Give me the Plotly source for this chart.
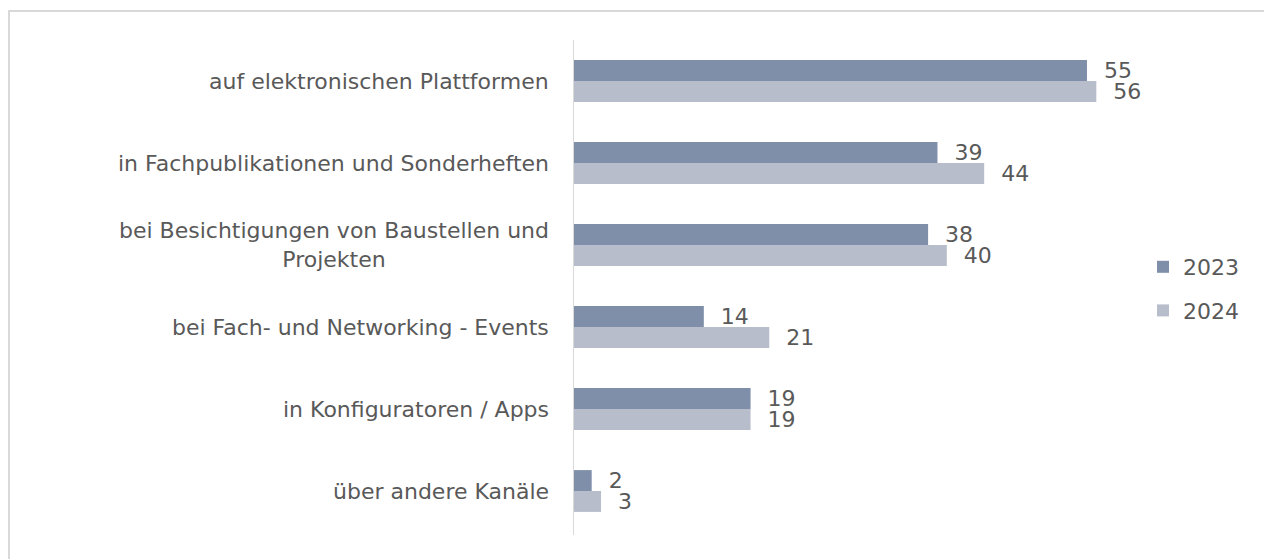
import plotly.graph_objects as go

categories = [
    "auf elektronischen Plattformen",
    "in Fachpublikationen und Sonderheften",
    "bei Besichtigungen von Baustellen und<br>Projekten",
    "bei Fach- und Networking - Events",
    "in Konfiguratoren / Apps",
    "über andere Kanäle",
]
values_2023 = [55, 39, 38, 14, 19, 2]
values_2024 = [56, 44, 40, 21, 19, 3]
series_names = ["2023", "2024"]

# the page body adds an 8px margin, so the figure is laid out 8px smaller
OFF = 8
W, H = 1272 - OFF, 559 - OFF
FONT = "DejaVu Sans"
FS = 22
TXT = "#595959"
COL_2023 = "#7f8fa9"
COL_2024 = "#b7bdcb"

PL, PR, PT, PB = 573 - OFF, 1130 - OFF, 40 - OFF, 532 - OFF
fig = go.Figure()
for name, vals, col, grp in [(series_names[0], values_2023, COL_2023, "a"),
                             (series_names[1], values_2024, COL_2024, "b")]:
    fig.add_trace(go.Bar(
        y=list(range(len(categories))), x=vals, name=name, orientation="h",
        marker=dict(color=col, line=dict(width=0)),
        text=vals, texttemplate="\u00a0\u00a0%{x}", textposition="outside",
        textfont=dict(family=FONT, size=FS, color=TXT),
        constraintext="none", cliponaxis=False, legendgroup=grp,
        hoverinfo="skip",
    ))

for i, c in enumerate(categories):
    fig.add_annotation(
        x=0, xref="paper", y=i, yref="y", text=c, showarrow=False,
        xanchor="right", yanchor="middle", align="center", xshift=-22,
        font=dict(family=FONT, size=FS, color=TXT),
    )

fig.add_shape(type="rect", xref="paper", yref="paper",
              x0=(9 - OFF - PL) / (PR - PL), x1=(1271 - OFF - PL) / (PR - PL),
              y0=(PB - 600) / (PB - PT), y1=(PB - (11 - OFF)) / (PB - PT),
              line=dict(color="#d9d9d9", width=2), layer="below")

fig.update_layout(
    width=W, height=H,
    margin=dict(l=PL, r=W - PR, t=PT, b=H - PB, pad=0),
    paper_bgcolor="white", plot_bgcolor="white",
    barmode="group", bargap=0.49, bargroupgap=0,
    font=dict(family=FONT, size=FS, color=TXT),
    xaxis=dict(range=[0, (PR - PL) / 9.345], visible=False, fixedrange=True),
    yaxis=dict(autorange="reversed", showticklabels=False, showgrid=False,
               zeroline=False, showline=False, ticks="", fixedrange=True),
    legend=dict(x=(1143 - OFF - PL) / (PR - PL), y=(PB - (289 - OFF)) / (PB - PT),
                xanchor="left", yanchor="middle", traceorder="grouped",
                tracegroupgap=12, font=dict(family=FONT, size=FS, color=TXT),
                itemwidth=30, bgcolor="rgba(0,0,0,0)"),
    showlegend=True,
)
fig.add_shape(type="line", xref="x", yref="paper", x0=0, x1=0,
              y0=-3 / (PB - PT), y1=1,
              line=dict(color="#d9d9d9", width=2))

fig.write_html("out.html")
